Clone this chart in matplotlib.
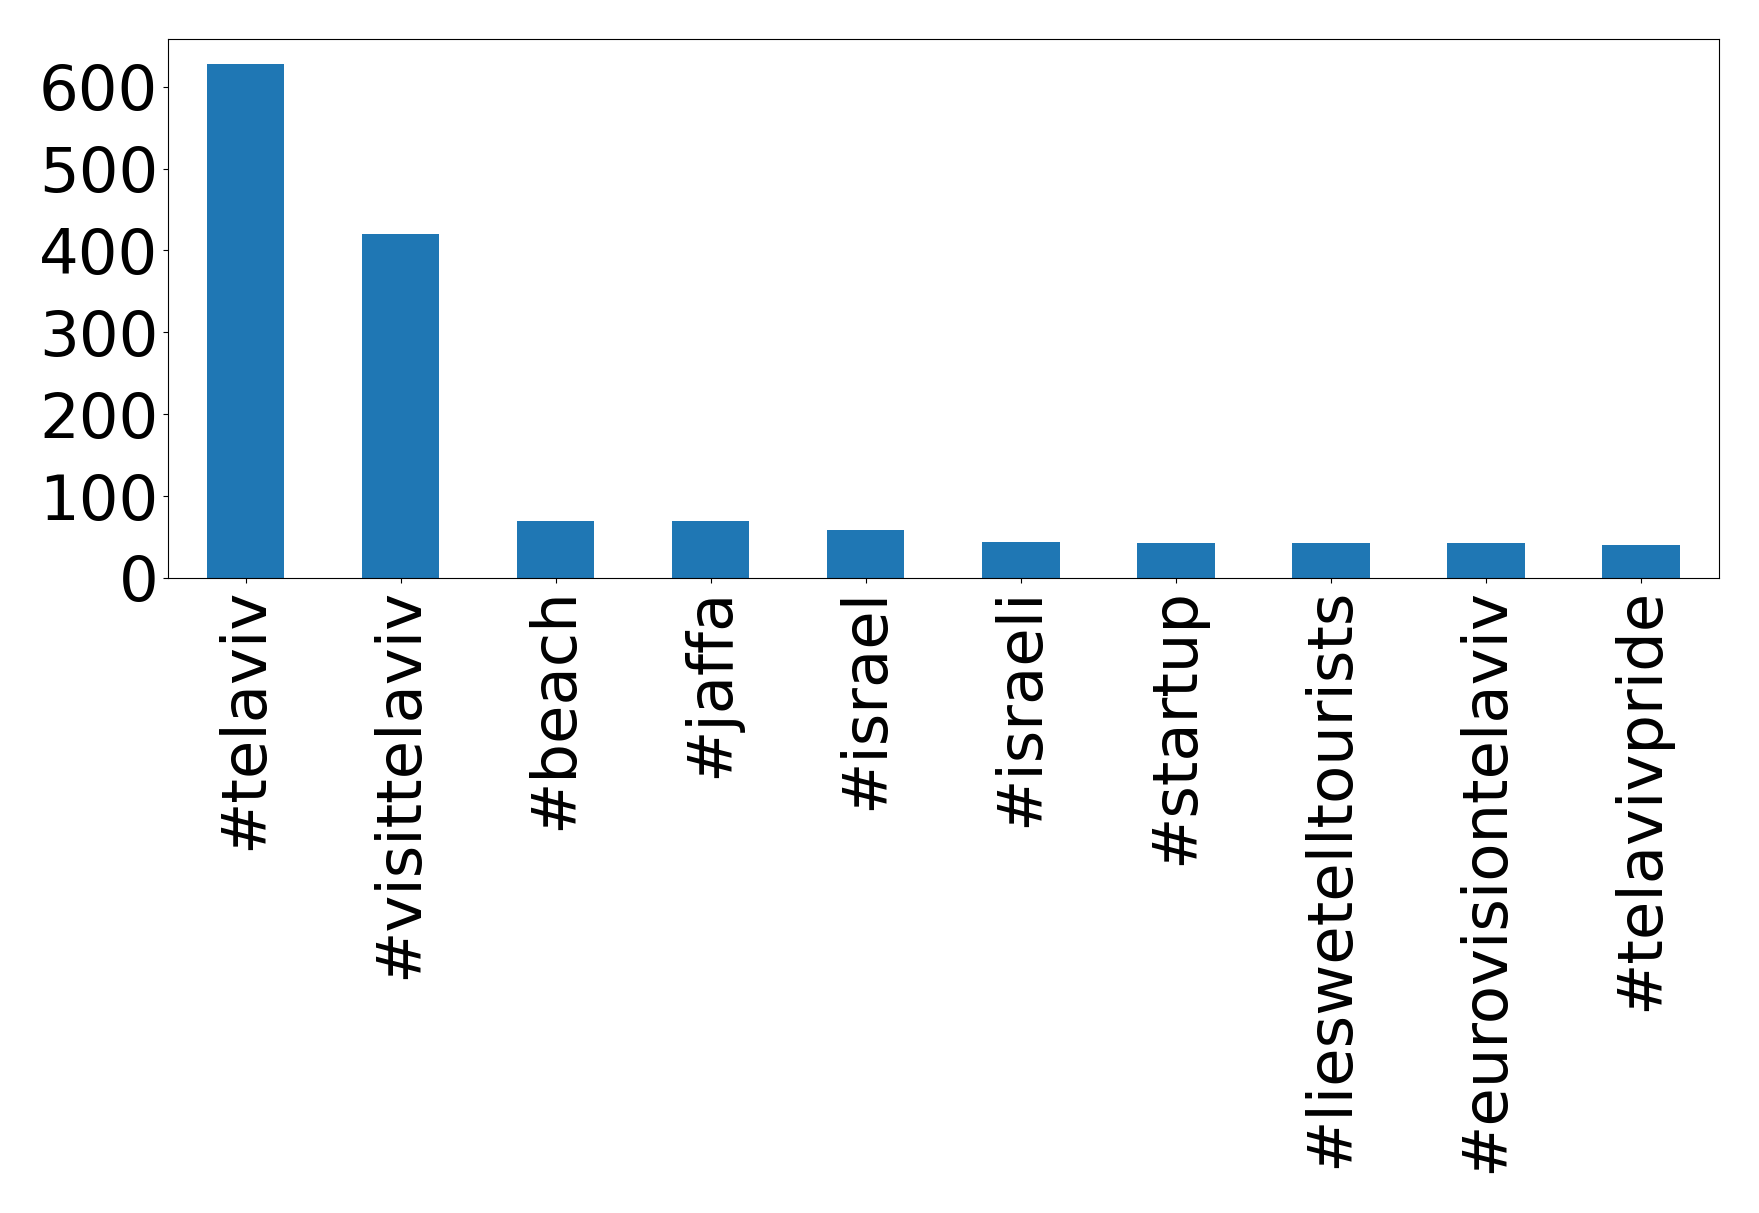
import matplotlib
matplotlib.use("Agg")
import matplotlib.pyplot as plt
import numpy as np

# hashtags and their counts
hashtags = ['#telaviv', '#visittelaviv', '#beach', '#jaffa', '#israel', '#israeli',
            '#startup', '#lieswetelltourists', '#eurovisiontelaviv', '#telavivpride']
counts = [627, 420, 69, 69, 58, 44, 43, 43, 43, 40]
yticks = [0, 100, 200, 300, 400, 500, 600]

fig = plt.figure(figsize=(17.59, 12.13), dpi=100)
ax = fig.add_axes([0.0955, 0.5235, 0.8815, 0.4445])

x = np.arange(len(hashtags))
ax.bar(x, counts, width=0.5, color='#1f77b4')
ax.set_xlim(-0.5, len(hashtags) - 0.5)
ax.set_xticks(x)
ax.set_xticklabels(hashtags, rotation=90)
ax.set_yticks(yticks)
ax.tick_params(axis='both', labelsize=45)

fig.savefig('out.png', dpi=100)
